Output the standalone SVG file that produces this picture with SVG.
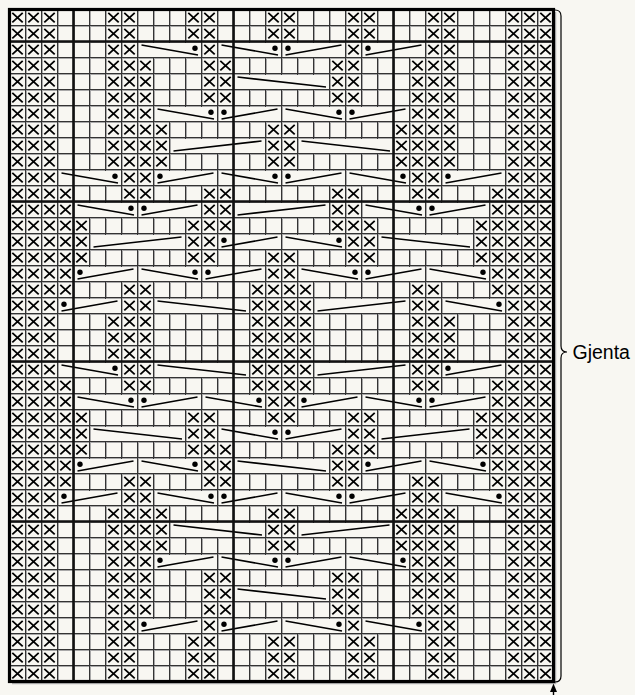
<svg xmlns="http://www.w3.org/2000/svg" width="635" height="695" viewBox="0 0 635 695">
<style>
.cv{fill:#f8f7f2;stroke:none}
.cl{fill:none;stroke:#000;stroke-width:1.6}
.thick{fill:none;stroke:#111;stroke-width:2.6}
.lbl{font-family:"Liberation Sans",Arial,sans-serif;font-size:19.5px;fill:#000}
</style>
<defs>
<path id="grid" d="M25.5 9.5v672m16-672v672m16-672v672m16-672v672m16-672v672m16-672v672m16-672v672m16-672v672m16-672v672m16-672v672m16-672v672m16-672v672m16-672v672m16-672v672m16-672v672m16-672v672m16-672v672m16-672v672m16-672v672m16-672v672m16-672v672m16-672v672m16-672v672m16-672v672m16-672v672m16-672v672m16-672v672m16-672v672m16-672v672m16-672v672m16-672v672m16-672v672m16-672v672M9.5 25.5h544m-544 16h544m-544 16h544m-544 16h544m-544 16h544m-544 16h544m-544 16h544m-544 16h544m-544 16h544m-544 16h544m-544 16h544m-544 16h544m-544 16h544m-544 16h544m-544 16h544m-544 16h544m-544 16h544m-544 16h544m-544 16h544m-544 16h544m-544 16h544m-544 16h544m-544 16h544m-544 16h544m-544 16h544m-544 16h544m-544 16h544m-544 16h544m-544 16h544m-544 16h544m-544 16h544m-544 16h544m-544 16h544m-544 16h544m-544 16h544m-544 16h544m-544 16h544m-544 16h544m-544 16h544m-544 16h544m-544 16h544" fill="none"/>
<path id="x" d="M2.8 3.3L13.2 12.9M13.2 3.3L2.8 12.9" fill="none" stroke="#000" stroke-width="1.8"/>
<g id="e"><use href="#x" x="9.5"/><use href="#x" x="25.5"/><use href="#x" x="41.5"/><use href="#x" x="505.5"/><use href="#x" x="521.5"/><use href="#x" x="537.5"/></g>
<g id="p0"><use href="#e"/><use href="#x" x="105.5"/><use href="#x" x="121.5"/><use href="#x" x="185.5"/><use href="#x" x="201.5"/><use href="#x" x="265.5"/><use href="#x" x="281.5"/><use href="#x" x="345.5"/><use href="#x" x="361.5"/><use href="#x" x="425.5"/><use href="#x" x="441.5"/></g>
<g id="p2"><use href="#e"/><use href="#x" x="105.5"/><use href="#x" x="121.5"/><use href="#x" x="201.5"/><use href="#x" x="345.5"/><use href="#x" x="425.5"/><use href="#x" x="441.5"/></g>
<g id="p3"><use href="#e"/><use href="#x" x="105.5"/><use href="#x" x="121.5"/><use href="#x" x="137.5"/><use href="#x" x="201.5"/><use href="#x" x="217.5"/><use href="#x" x="329.5"/><use href="#x" x="345.5"/><use href="#x" x="409.5"/><use href="#x" x="425.5"/><use href="#x" x="441.5"/></g>
<g id="p6"><use href="#e"/><use href="#x" x="105.5"/><use href="#x" x="121.5"/><use href="#x" x="137.5"/><use href="#x" x="409.5"/><use href="#x" x="425.5"/><use href="#x" x="441.5"/></g>
<g id="p7"><use href="#e"/><use href="#x" x="105.5"/><use href="#x" x="121.5"/><use href="#x" x="137.5"/><use href="#x" x="153.5"/><use href="#x" x="265.5"/><use href="#x" x="281.5"/><use href="#x" x="393.5"/><use href="#x" x="409.5"/><use href="#x" x="425.5"/><use href="#x" x="441.5"/></g>
<g id="p10"><use href="#e"/><use href="#x" x="121.5"/><use href="#x" x="137.5"/><use href="#x" x="409.5"/><use href="#x" x="425.5"/></g>
<g id="p11"><use href="#e"/><use href="#x" x="57.5"/><use href="#x" x="121.5"/><use href="#x" x="137.5"/><use href="#x" x="201.5"/><use href="#x" x="217.5"/><use href="#x" x="329.5"/><use href="#x" x="345.5"/><use href="#x" x="409.5"/><use href="#x" x="425.5"/><use href="#x" x="489.5"/></g>
<g id="p12"><use href="#e"/><use href="#x" x="57.5"/><use href="#x" x="201.5"/><use href="#x" x="217.5"/><use href="#x" x="329.5"/><use href="#x" x="345.5"/><use href="#x" x="489.5"/></g>
<g id="p13"><use href="#e"/><use href="#x" x="57.5"/><use href="#x" x="73.5"/><use href="#x" x="185.5"/><use href="#x" x="201.5"/><use href="#x" x="217.5"/><use href="#x" x="329.5"/><use href="#x" x="345.5"/><use href="#x" x="361.5"/><use href="#x" x="473.5"/><use href="#x" x="489.5"/></g>
<g id="p14"><use href="#e"/><use href="#x" x="57.5"/><use href="#x" x="73.5"/><use href="#x" x="185.5"/><use href="#x" x="201.5"/><use href="#x" x="345.5"/><use href="#x" x="361.5"/><use href="#x" x="473.5"/><use href="#x" x="489.5"/></g>
<g id="p15"><use href="#e"/><use href="#x" x="57.5"/><use href="#x" x="73.5"/><use href="#x" x="185.5"/><use href="#x" x="201.5"/><use href="#x" x="265.5"/><use href="#x" x="281.5"/><use href="#x" x="345.5"/><use href="#x" x="361.5"/><use href="#x" x="473.5"/><use href="#x" x="489.5"/></g>
<g id="p16"><use href="#e"/><use href="#x" x="57.5"/><use href="#x" x="265.5"/><use href="#x" x="281.5"/><use href="#x" x="489.5"/></g>
<g id="p17"><use href="#e"/><use href="#x" x="57.5"/><use href="#x" x="121.5"/><use href="#x" x="137.5"/><use href="#x" x="249.5"/><use href="#x" x="265.5"/><use href="#x" x="281.5"/><use href="#x" x="297.5"/><use href="#x" x="409.5"/><use href="#x" x="425.5"/><use href="#x" x="489.5"/></g>
<g id="p18"><use href="#e"/><use href="#x" x="121.5"/><use href="#x" x="137.5"/><use href="#x" x="249.5"/><use href="#x" x="265.5"/><use href="#x" x="281.5"/><use href="#x" x="297.5"/><use href="#x" x="409.5"/><use href="#x" x="425.5"/></g>
<g id="p19"><use href="#e"/><use href="#x" x="105.5"/><use href="#x" x="121.5"/><use href="#x" x="137.5"/><use href="#x" x="249.5"/><use href="#x" x="265.5"/><use href="#x" x="281.5"/><use href="#x" x="297.5"/><use href="#x" x="409.5"/><use href="#x" x="425.5"/><use href="#x" x="441.5"/></g>
<g id="D4"><rect class="cv" x="1.5" y="1.5" width="62" height="14"/><path class="cl" d="M4 3.5L60.5 13.5"/><circle cx="57.5" cy="6.8" r="2.7" fill="#000"/></g>
<g id="A4"><rect class="cv" x="1.5" y="1.5" width="62" height="14"/><path class="cl" d="M4 13.5L60 3.5"/><circle cx="6.5" cy="6.8" r="2.7" fill="#000"/></g>
<g id="D6"><rect class="cv" x="1.5" y="1.5" width="94" height="14"/><path class="cl" d="M4 3.5L92.5 13.5"/></g>
<g id="A6"><rect class="cv" x="1.5" y="1.5" width="94" height="14"/><path class="cl" d="M4 13.5L92 3.5"/></g>
</defs>
<rect x="0" y="0" width="635" height="695" fill="#f8f7f2"/>
<g id="chart-grid">
<use href="#grid" stroke="#a8a8a8" stroke-width="1" transform="translate(1,1)"/>
<use href="#grid" stroke="#333" stroke-width="1"/>
</g>
<g id="cables">
<g transform="translate(0,41.5)"><use href="#D4" x="137.5"/><use href="#D4" x="217.5"/><use href="#A4" x="281.5"/><use href="#A4" x="361.5"/></g>
<g transform="translate(0,73.5)"><use href="#D6" x="233.5"/></g>
<g transform="translate(0,105.5)"><use href="#D4" x="153.5"/><use href="#A4" x="217.5"/><use href="#D4" x="281.5"/><use href="#A4" x="345.5"/></g>
<g transform="translate(0,137.5)"><use href="#A6" x="169.5"/><use href="#D6" x="297.5"/></g>
<g transform="translate(0,169.5)"><use href="#D4" x="57.5"/><use href="#A4" x="153.5"/><use href="#D4" x="217.5"/><use href="#A4" x="281.5"/><use href="#D4" x="345.5"/><use href="#A4" x="441.5"/></g>
<g transform="translate(0,201.5)"><use href="#D4" x="73.5"/><use href="#A4" x="137.5"/><use href="#A6" x="233.5"/><use href="#D4" x="361.5"/><use href="#A4" x="425.5"/></g>
<g transform="translate(0,233.5)"><use href="#A6" x="89.5"/><use href="#A4" x="217.5"/><use href="#D4" x="281.5"/><use href="#D6" x="377.5"/></g>
<g transform="translate(0,265.5)"><use href="#A4" x="73.5"/><use href="#D4" x="137.5"/><use href="#A4" x="201.5"/><use href="#D4" x="297.5"/><use href="#A4" x="361.5"/><use href="#D4" x="425.5"/></g>
<g transform="translate(0,297.5)"><use href="#A4" x="57.5"/><use href="#D6" x="153.5"/><use href="#A6" x="313.5"/><use href="#D4" x="441.5"/></g>
<g transform="translate(0,361.5)"><use href="#D4" x="57.5"/><use href="#D6" x="153.5"/><use href="#A6" x="313.5"/><use href="#A4" x="441.5"/></g>
<g transform="translate(0,393.5)"><use href="#D4" x="73.5"/><use href="#A4" x="137.5"/><use href="#D4" x="201.5"/><use href="#A4" x="297.5"/><use href="#D4" x="361.5"/><use href="#A4" x="425.5"/></g>
<g transform="translate(0,425.5)"><use href="#D6" x="89.5"/><use href="#D4" x="217.5"/><use href="#A4" x="281.5"/><use href="#A6" x="377.5"/></g>
<g transform="translate(0,457.5)"><use href="#A4" x="73.5"/><use href="#D4" x="137.5"/><use href="#D6" x="233.5"/><use href="#A4" x="361.5"/><use href="#D4" x="425.5"/></g>
<g transform="translate(0,489.5)"><use href="#A4" x="57.5"/><use href="#D4" x="153.5"/><use href="#A4" x="217.5"/><use href="#D4" x="281.5"/><use href="#A4" x="345.5"/><use href="#D4" x="441.5"/></g>
<g transform="translate(0,521.5)"><use href="#D6" x="169.5"/><use href="#A6" x="297.5"/></g>
<g transform="translate(0,553.5)"><use href="#A4" x="153.5"/><use href="#D4" x="217.5"/><use href="#A4" x="281.5"/><use href="#D4" x="345.5"/></g>
<g transform="translate(0,585.5)"><use href="#D6" x="233.5"/></g>
<g transform="translate(0,617.5)"><use href="#A4" x="137.5"/><use href="#A4" x="217.5"/><use href="#D4" x="281.5"/><use href="#D4" x="361.5"/></g>
</g>
<g id="stitches">
<use href="#p0" y="9.5"/><use href="#p0" y="25.5"/><use href="#p2" y="41.5"/><use href="#p3" y="57.5"/><use href="#p3" y="73.5"/><use href="#p3" y="89.5"/><use href="#p6" y="105.5"/><use href="#p7" y="121.5"/><use href="#p7" y="137.5"/><use href="#p7" y="153.5"/><use href="#p10" y="169.5"/><use href="#p11" y="185.5"/><use href="#p12" y="201.5"/><use href="#p13" y="217.5"/><use href="#p14" y="233.5"/><use href="#p15" y="249.5"/><use href="#p16" y="265.5"/><use href="#p17" y="281.5"/><use href="#p18" y="297.5"/><use href="#p19" y="313.5"/><use href="#p19" y="329.5"/><use href="#p19" y="345.5"/><use href="#p18" y="361.5"/><use href="#p17" y="377.5"/><use href="#p16" y="393.5"/><use href="#p15" y="409.5"/><use href="#p14" y="425.5"/><use href="#p13" y="441.5"/><use href="#p12" y="457.5"/><use href="#p11" y="473.5"/><use href="#p10" y="489.5"/><use href="#p7" y="505.5"/><use href="#p7" y="521.5"/><use href="#p7" y="537.5"/><use href="#p6" y="553.5"/><use href="#p3" y="569.5"/><use href="#p3" y="585.5"/><use href="#p3" y="601.5"/><use href="#p2" y="617.5"/><use href="#p0" y="633.5"/><use href="#p0" y="649.5"/><use href="#p0" y="665.5"/>
</g>
<g id="frame">
<path class="thick" d="M73.5 9.5V681.5M233.5 9.5V681.5M393.5 9.5V681.5M9.5 41.5H553.5M9.5 201.5H553.5M9.5 361.5H553.5M9.5 521.5H553.5"/>
<path d="M12 683.5H555.5V12" fill="none" stroke="#b5b5b5" stroke-width="1.5"/>
<rect x="9.5" y="9.5" width="544" height="672" fill="none" stroke="#000" stroke-width="3.2"/>
</g>
<g id="repeat">
<path d="M555 10C559.5 10 561 12 561 16V346C561 350 563 352 567 352C563 352 561 354 561 358V676C561 680 559.5 682 555 682" fill="none" stroke="#000" stroke-width="1.2"/>
<text class="lbl" x="572.5" y="359">Gjenta</text>
</g>
<g id="start">
<path d="M553.5 689V695" stroke="#000" stroke-width="1.4"/>
<polygon points="553.5,683.5 550,692 557,692" fill="#000"/>
</g>
</svg>
